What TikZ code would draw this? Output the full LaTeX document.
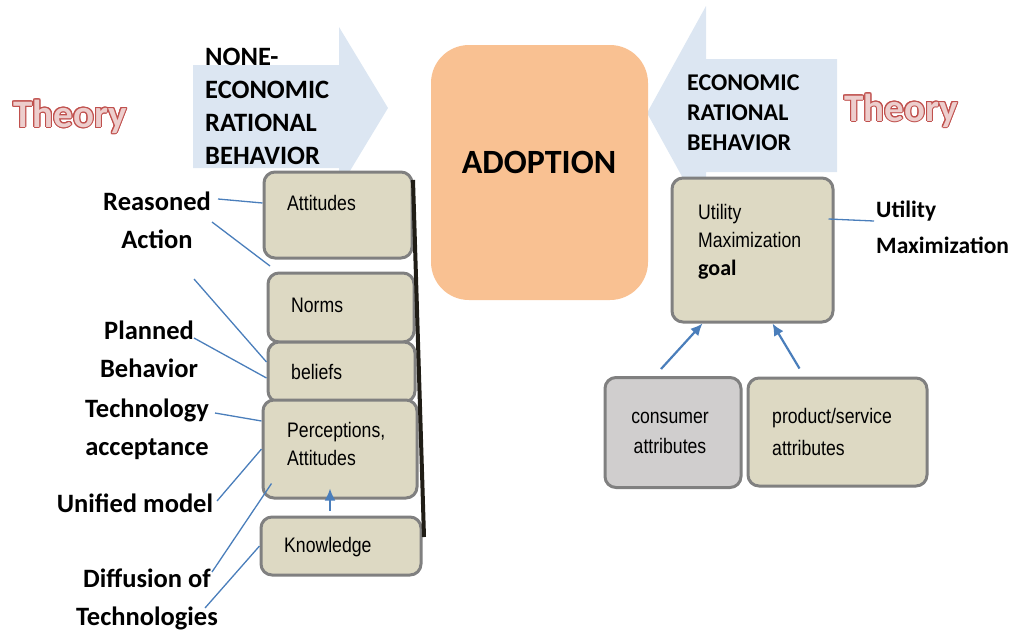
\documentclass[tikz,border=0pt]{standalone}
\usepackage{fontspec}
\setmainfont{Carlito}
\newfontfamily\narrowfont[FakeStretch=0.84]{Liberation Sans}
\usepackage[copies]{contour}
\usetikzlibrary{arrows.meta}
\definecolor{arrowc}{HTML}{DCE6F2}
\definecolor{adoptc}{HTML}{F9C192}
\definecolor{boxc}{HTML}{DDD9C3}
\definecolor{consc}{HTML}{D0CECE}
\definecolor{edgec}{HTML}{808080}
\definecolor{linkc}{HTML}{4A7EBB}
\definecolor{theoryc}{HTML}{C0504D}
\definecolor{railc}{HTML}{201D16}
\colorlet{theoryfill}{theoryc!28}
\contourlength{0.9pt}
\contournumber{16}
\tikzstyle{box} = [
  draw=edgec,
  line width=3pt,
  fill=boxc,
  rounded corners=11pt,
  inner sep=0pt,
]
\tikzstyle{boxtext} = [font=\narrowfont\fontsize{21}{28}\selectfont, inner sep=0pt, align=left]
\tikzstyle{lbl} = [font=\bfseries\fontsize{26.5}{38}\selectfont, inner sep=0pt, align=center]
\tikzstyle{theory} = [font=\bfseries\fontsize{39}{40}\selectfont, text=theoryfill, inner sep=0pt]
\tikzstyle{link} = [draw=linkc, line width=1.3pt]
\tikzstyle{feed} = [draw=linkc, line width=2.2pt, -{Latex[length=12pt,width=11pt]}]

\begin{document}
\begin{tikzpicture}[x=1pt, y=-1pt]
    \useasboundingbox (0,0) rectangle (1014,632);

    % Block arrows
    \fill[arrowc] (193,65) -- (339,65) -- (339,27) -- (388,108) -- (339,189)
        -- (339,168) -- (193,168) -- cycle;
    \fill[arrowc] (837,59) -- (706,59) -- (706,6) -- (647,113) -- (706,220)
        -- (706,172) -- (837,172) -- cycle;
    \node[font=\bfseries\fontsize{26.5}{33}\selectfont, inner sep=0pt, align=left,
        anchor=north west] (noneco) at (205,48) {NONE-\\ECONOMIC\\RATIONAL\\BEHAVIOR};
    \node[font=\bfseries\fontsize{24}{30}\selectfont, inner sep=0pt, align=left,
        anchor=north west] (eco) at (687,75) {ECONOMIC\\RATIONAL\\BEHAVIOR};

    % Adoption
    \node[fill=adoptc, rounded corners=38pt, minimum width=217pt, minimum height=255pt,
        inner sep=0pt] (adopt) at (539.5,172.5) {};
    \node[font=\bfseries\fontsize{34}{36}\selectfont, inner sep=0pt] (adoptT) at (539,162) {ADOPTION};

    % Theory titles
    \node[theory] (thL) at (70,117) {\contour{theoryc}{Theory}};
    \node[theory] (thR) at (901,111) {\contour{theoryc}{Theory}};

    % Left stack
    \node[box, minimum width=148pt, minimum height=86pt] (att) at (338,215) {};
    \node[box, minimum width=146pt, minimum height=69pt] (norm) at (341,307.5) {};
    \node[box, minimum width=147pt, minimum height=60pt] (bel) at (341.5,372) {};
    \node[box, minimum width=154pt, minimum height=98pt] (perc) at (340,449) {};
    \node[box, minimum width=160pt, minimum height=58pt] (know) at (341,546) {};
    \node[boxtext, anchor=west] (attT) at (287,203) {Attitudes};
    \node[boxtext, anchor=west] (normT) at (291,305) {Norms};
    \node[boxtext, anchor=west] (belT) at (291,372) {beliefs};
    \node[boxtext, anchor=west] (percT) at (287,444) {Perceptions,\\Attitudes};
    \node[boxtext, anchor=west] (knowT) at (284,547) {Knowledge};
    \draw[railc, line width=4pt] (413,180) -- (424,537);
    \draw[feed] ([xshift=-11pt,yshift=5pt]know.north) -- ([xshift=-10pt,yshift=11pt]perc.south);

    % Left labels
    \node[lbl, anchor=north] (ra) at (157,192) {Reasoned\\Action};
    \node[lbl, anchor=north] (pb) at (149,321) {Planned\\Behavior};
    \node[lbl, anchor=north] (ta) at (147,399) {Technology\\acceptance};
    \node[lbl, anchor=north] (um) at (135,494) {Unified model};
    \node[lbl, anchor=north] (dt) at (147,569) {Diffusion of\\Technologies};

    \coordinate (ra1) at (218,199);
    \coordinate (ra2) at (212,222);
    \coordinate (gap) at (270,266);
    \coordinate (pb1) at (194,279);
    \coordinate (pb2) at (194,338);
    \coordinate (ta1) at (215,413);
    \coordinate (um1) at (217,501);
    \coordinate (dt1) at (212,572);
    \coordinate (dt2) at (205,608);

    \draw[link] (ra1) -- (att.west |- attT);
    \draw[link] (ra2) -- (gap);
    \draw[link] (pb1) -- ([yshift=10pt]bel.west);
    \draw[link] (pb2) -- ([yshift=-6pt]bel.west);
    \draw[link] (ta1) -- ([yshift=28pt]perc.west);
    \draw[link] (um1) -- (perc.west);
    \draw[link] (dt1) -- ([xshift=10pt,yshift=16pt]perc.south west);
    \draw[link] (dt2) -- (know.west);

    % Right side
    \node[box, minimum width=161pt, minimum height=144pt] (util) at (752.5,250) {};
    \node[box, fill=consc, minimum width=136pt, minimum height=110pt] (cons) at (673,432.5) {};
    \node[box, minimum width=179pt, minimum height=108pt] (prod) at (837.5,432) {};
    \node[boxtext, anchor=west] (utilT) at (698,242)
        {Utility\\Maximization\\{\rmfamily\bfseries\fontsize{22}{28}\selectfont goal}};
    \node[boxtext, align=center, font=\narrowfont\fontsize{21}{30}\selectfont] (consT) at (670,433) {consumer\\attributes};
    \node[boxtext, anchor=west, font=\narrowfont\fontsize{21}{32}\selectfont] (prodT) at (772,432) {product/service\\attributes};

    \node[lbl, align=left, anchor=north west, font=\bfseries\fontsize{23.5}{36}\selectfont]
        (utl) at (876,201) {Utility\\Maximization};
    \coordinate (utl1) at (874,221);
    \draw[link] ([xshift=-6pt,yshift=31pt]util.east) -- (utl1);

    \draw[feed] ([xshift=-12pt,yshift=7pt]cons.north) -- ([xshift=-50pt]util.south);
    \draw[feed] ([xshift=-38pt,yshift=8pt]prod.north) -- ([xshift=20pt]util.south);
\end{tikzpicture}
\end{document}
